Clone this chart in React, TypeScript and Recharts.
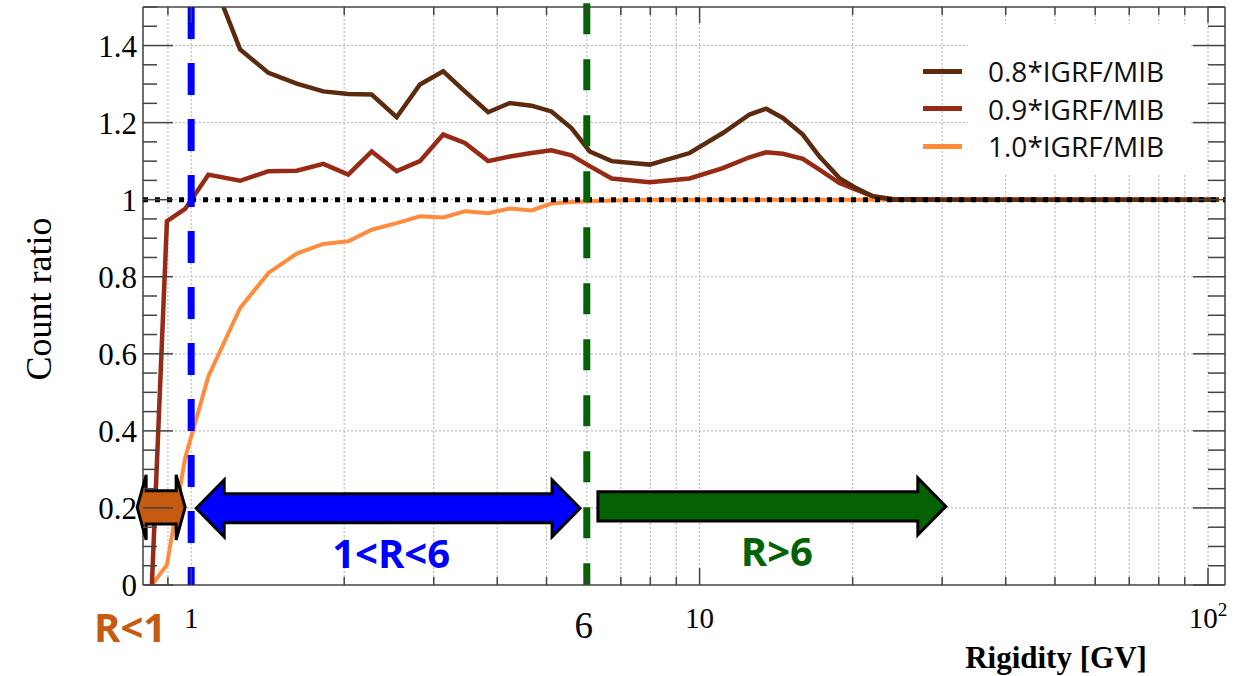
import React from "react";
import {
  CartesianGrid,
  Line,
  LineChart,
  ReferenceArea,
  ReferenceLine,
  XAxis,
  YAxis,
} from "recharts";

// rigidity bins [GV]
const RIGIDITY = [
  0.837, 0.896, 0.973, 1.081, 1.248, 1.419, 1.613, 1.819, 2.037, 2.265, 2.536,
  2.818, 3.131, 3.454, 3.838, 4.234, 4.671, 5.112, 5.597, 6.08, 6.715, 7.976,
  9.558, 11.11, 12.54, 13.52, 14.58, 15.96, 17.21, 18.84, 20.32, 21.9, 23.98,
  30, 50, 105,
];

// count ratio per field scaling (null = off scale)
const RATIO_08 = [
  null, null, null, 1.6, 1.39, 1.329, 1.301, 1.281, 1.274, 1.273, 1.214, 1.299,
  1.333, 1.281, 1.227, 1.251, 1.244, 1.229, 1.186, 1.125, 1.1, 1.091, 1.121,
  1.173, 1.221, 1.236, 1.212, 1.169, 1.112, 1.056, 1.03, 1.009, 1.0, 1, 1, 1,
];
const RATIO_09 = [
  0, 0.944, 0.976, 1.065, 1.049, 1.074, 1.075, 1.093, 1.065, 1.125, 1.074, 1.1,
  1.169, 1.147, 1.1, 1.112, 1.121, 1.128, 1.115, 1.087, 1.055, 1.045, 1.055,
  1.082, 1.11, 1.123, 1.119, 1.106, 1.078, 1.043, 1.026, 1.009, 1.002, 1, 1, 1,
];
const RATIO_10 = [
  0, 0.052, 0.33, 0.541, 0.719, 0.81, 0.86, 0.885, 0.892, 0.922, 0.939, 0.957,
  0.954, 0.97, 0.965, 0.977, 0.972, 0.99, 0.994, 0.996, 0.998, 1, 1, 1, 1, 1,
  1, 1, 1, 1, 1, 1, 1, 1, 1, 1,
];

const SERIES_NAMES = ["0.8*IGRF/MIB", "0.9*IGRF/MIB", "1.0*IGRF/MIB"];
const SERIES_KEYS = ["r08", "r09", "r10"];
const SERIES_COLORS = ["#5C2B0E", "#962A14", "#FF8B3D"];

const X_TICKS = [0.9, 1, 2, 3, 4, 5, 6, 7, 8, 9, 10, 20, 30, 40, 50, 60, 70, 80, 90, 100];
const X_MAJOR = [1, 10, 100];
const Y_TICKS = [
  0, 0.05, 0.1, 0.15, 0.2, 0.25, 0.3, 0.35, 0.4, 0.45, 0.5, 0.55, 0.6, 0.65,
  0.7, 0.75, 0.8, 0.85, 0.9, 0.95, 1, 1.05, 1.1, 1.15, 1.2, 1.25, 1.3, 1.35,
  1.4, 1.45, 1.5,
];
const Y_LABELS = [0, 0.2, 0.4, 0.6, 0.8, 1, 1.2, 1.4];

// rigidity cut-off regions
const CUTS = [1, 6];
const REGIONS = [
  { label: "R<1", color: "#C55A11", from: 0.783, to: 0.973, heads: "both", lo: 0.117, hi: 0.286, head: 9, dx: -31, dy: 135 },
  { label: "1<R<6", color: "#0000FF", from: 1.023, to: 5.82, heads: "both", lo: 0.125, hi: 0.273, head: 28, dx: 3, dy: 60 },
  { label: "R>6", color: "#046204", from: 6.31, to: 30.5, heads: "right", lo: 0.13, hi: 0.278, head: 28, dx: 5, dy: 60 },
];

const data = RIGIDITY.map((r, i) => ({
  r,
  r08: RATIO_08[i],
  r09: RATIO_09[i],
  r10: RATIO_10[i],
}));

const SERIF = "'Liberation Serif', 'Times New Roman', serif";
const SANS = "'Open Sans', sans-serif";
const FRAME = "#444";

const isIn = (arr: number[], v: number) => arr.some((a) => Math.abs(a - v) < 1e-6);

function BottomTick({ x, y, payload }: any) {
  const v = payload.value;
  const major = isIn(X_MAJOR, v);
  return (
    <g>
      <line x1={x} x2={x} y1={y} y2={y - (major ? 17 : 8)} stroke={FRAME} strokeWidth={1.5} />
      {(v === 1 || v === 10) && (
        <text x={x} y={y + 43} textAnchor="middle" fontSize={29} fontFamily={SERIF} fill="#000">
          {v}
        </text>
      )}
      {v === 100 && (
        <text x={x} y={y + 43} textAnchor="middle" fontSize={29} fontFamily={SERIF} fill="#000">
          10
          <tspan dy={-12} fontSize={19}>2</tspan>
        </text>
      )}
      {v === 6 && (
        <text x={x - 3} y={y + 53} textAnchor="middle" fontSize={37} fontFamily={SERIF} fill="#000">
          6
        </text>
      )}
    </g>
  );
}

function TopTick({ x, y, payload }: any) {
  const major = isIn(X_MAJOR, payload.value);
  return <line x1={x} x2={x} y1={y} y2={y + (major ? 16 : 8)} stroke={FRAME} strokeWidth={1.5} />;
}

function LeftTick({ x, y, payload }: any) {
  const v = payload.value;
  const major = isIn(Y_LABELS, v);
  return (
    <g>
      <line x1={x} x2={x + (major ? 30 : 14)} y1={y} y2={y} stroke={FRAME} strokeWidth={1.5} />
      {major && (
        <text x={x - 6} y={y + 11} textAnchor="end" fontSize={31} fontFamily={SERIF} fill="#000">
          {String(v)}
        </text>
      )}
    </g>
  );
}

function RightTick({ x, y, payload }: any) {
  const major = isIn(Y_LABELS, payload.value);
  return <line x1={x} x2={x - (major ? 32 : 17)} y1={y} y2={y} stroke={FRAME} strokeWidth={1.5} />;
}

function RegionArrow(props: any) {
  const { x, y, width: w, height: h, region } = props;
  const hl = region.head;
  const cy = y + h / 2;
  const bh = h * 0.255;
  const pts =
    region.heads === "both"
      ? [
          [x, cy], [x + hl, y], [x + hl, cy - bh], [x + w - hl, cy - bh], [x + w - hl, y],
          [x + w, cy], [x + w - hl, y + h], [x + w - hl, cy + bh], [x + hl, cy + bh], [x + hl, y + h],
        ]
      : [
          [x, cy - bh], [x + w - hl, cy - bh], [x + w - hl, y], [x + w, cy],
          [x + w - hl, y + h], [x + w - hl, cy + bh], [x, cy + bh],
        ];
  return (
    <g>
      <polygon
        points={pts.map((p) => p.join(",")).join(" ")}
        fill={region.color}
        stroke="#000"
        strokeWidth={3}
        strokeLinejoin="miter"
      />
      <text
        x={x + w / 2 + region.dx}
        y={cy + region.dy}
        textAnchor="middle"
        fontSize={40}
        fontWeight={700}
        fontFamily={SANS}
        fill={region.color}
      >
        {region.label}
      </text>
    </g>
  );
}

export default function App() {
  return (
    <div
      style={{
        position: "absolute",
        left: 0,
        top: 0,
        width: 1237,
        height: 676,
        background: "#fff",
        overflow: "hidden",
      }}
    >
      <LineChart
        width={1237}
        height={676}
        data={data}
        margin={{ top: 6, right: 11, bottom: 90, left: 142 }}
      >
        <CartesianGrid horizontal={false} stroke="#bdbdbd" strokeDasharray="2 2" strokeWidth={1.2} />
        {Y_LABELS.filter((v) => v > 0).map((v) => (
          <ReferenceLine key={`g${v}`} y={v} stroke="#bdbdbd" strokeDasharray="2 2" strokeWidth={1.2} />
        ))}
        <XAxis
          dataKey="r"
          type="number"
          scale="log"
          domain={[0.804, 108]}
          allowDataOverflow
          ticks={X_TICKS}
          interval={0}
          tick={<BottomTick />}
          tickLine={false}
          tickSize={0}
          tickMargin={0}
          height={1}
          axisLine={{ stroke: FRAME, strokeWidth: 1.5 }}
        />
        <XAxis
          xAxisId="top"
          orientation="top"
          dataKey="r"
          type="number"
          scale="log"
          domain={[0.804, 108]}
          allowDataOverflow
          ticks={X_TICKS}
          interval={0}
          tick={<TopTick />}
          tickLine={false}
          tickSize={0}
          tickMargin={0}
          height={1}
          axisLine={{ stroke: FRAME, strokeWidth: 1.5 }}
        />
        <YAxis
          type="number"
          domain={[0, 1.5]}
          allowDataOverflow
          ticks={Y_TICKS}
          interval={0}
          tick={<LeftTick />}
          tickLine={false}
          tickSize={0}
          tickMargin={0}
          width={1}
          axisLine={{ stroke: FRAME, strokeWidth: 1.5 }}
        />
        <YAxis
          yAxisId="right"
          orientation="right"
          type="number"
          domain={[0, 1.5]}
          allowDataOverflow
          ticks={Y_TICKS}
          interval={0}
          tick={<RightTick />}
          tickLine={false}
          tickSize={0}
          tickMargin={0}
          width={1}
          axisLine={{ stroke: FRAME, strokeWidth: 1.5 }}
        />
        {[2, 1, 0].map((i) => (
          <Line
            key={SERIES_KEYS[i]}
            dataKey={SERIES_KEYS[i]}
            name={SERIES_NAMES[i]}
            stroke={SERIES_COLORS[i]}
            strokeWidth={i === 2 ? 4 : 4.5}
            dot={false}
            activeDot={false}
            type="linear"
            isAnimationActive={false}
          />
        ))}
        <ReferenceLine y={1} stroke="#000" strokeWidth={5} strokeDasharray="5 7" zIndex={1300} />
        <ReferenceLine
          segment={[{ x: CUTS[0], y: 1.5 }, { x: CUTS[0], y: 0 }]}
          stroke="#0000FF"
          strokeWidth={7}
          strokeDasharray="32 24"
          zIndex={1400}
        />
        <ReferenceLine
          segment={[{ x: CUTS[1], y: 1.51 }, { x: CUTS[1], y: 0 }]}
          ifOverflow="visible"
          stroke="#046204"
          strokeWidth={7}
          strokeDasharray="31 25"
          zIndex={1400}
        />
        {REGIONS.map((reg) => (
          <ReferenceArea
            key={reg.label}
            x1={reg.from}
            x2={reg.to}
            y1={reg.lo}
            y2={reg.hi}
            ifOverflow="visible"
            zIndex={1500}
            shape={(p: any) => <RegionArrow {...p} region={reg} />}
          />
        ))}
      </LineChart>

      {/* legend */}
      <div
        style={{
          position: "absolute",
          left: 968,
          top: 24,
          width: 222,
          height: 149,
          background: "#fff",
        }}
      />
      {SERIES_NAMES.map((name, i) => (
        <div
          key={name}
          style={{
            position: "absolute",
            left: 923,
            top: 71 + i * 37.5 - 20,
            height: 40,
            display: "flex",
            alignItems: "center",
            whiteSpace: "nowrap",
          }}
        >
          <span
            style={{
              display: "inline-block",
              width: 39,
              height: 5,
              background: SERIES_COLORS[i],
              marginRight: 26,
            }}
          />
          <span style={{ fontFamily: SANS, fontSize: 28, color: "#111" }}>{name}</span>
        </div>
      ))}

      {/* axis titles */}
      <svg
        width={1237}
        height={676}
        style={{ position: "absolute", left: 0, top: 0, pointerEvents: "none" }}
      >
        <text
          x={1056}
          y={668}
          textAnchor="middle"
          fontSize={31}
          fontWeight={700}
          fontFamily={SERIF}
          fill="#000"
        >
          Rigidity [GV]
        </text>
        <text
          transform="translate(51,299) rotate(-90)"
          textAnchor="middle"
          fontSize={36}
          fontFamily={SERIF}
          fill="#000"
        >
          Count ratio
        </text>
      </svg>
    </div>
  );
}
